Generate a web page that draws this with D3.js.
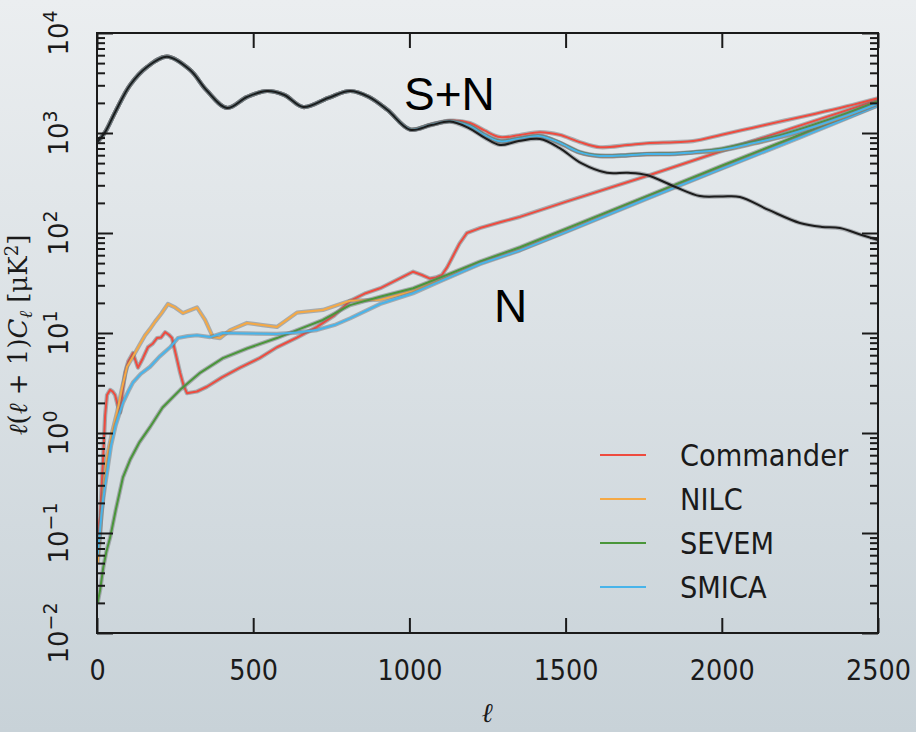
<!DOCTYPE html>
<html><head><meta charset="utf-8">
<script src="https://cdn.jsdelivr.net/npm/d3@7"></script>
<style>html,body{margin:0;padding:0;}body{width:916px;height:732px;overflow:hidden;}</style>
</head><body>
<svg id="chart" width="916" height="732"></svg>
<script>
// ---------- data ----------
const xTickValues = [0, 500, 1000, 1500, 2000, 2500];
const yExponents = [-2, -1, 0, 1, 2, 3, 4];
const seriesNames = ["Commander", "NILC", "SEVEM", "SMICA"];
const seriesColors = ["#ee4b3f", "#f5a945", "#4a963a", "#48b4ea"];

// signal (black)
const signalEll = [2, 26, 60, 106, 160, 224, 298, 350, 416, 480, 544, 600, 660, 740, 810, 870, 930, 1002, 1070, 1130, 1190, 1240, 1290, 1350, 1418, 1480, 1550, 1632, 1700, 1760, 1850, 1930, 2000, 2058, 2150, 2250, 2320, 2378, 2450, 2500];
const signalVals = [820, 1020, 1660, 3020, 4570, 5800, 4270, 2690, 1780, 2290, 2630, 2400, 1820, 2240, 2630, 2300, 1700, 1080, 1200, 1300, 1120, 900, 760, 830, 870, 710, 500, 400, 400, 380, 290, 234, 232, 229, 170, 126, 115, 112, 95, 85];

// S+N per method
const snEll = [2, 26, 60, 106, 160, 224, 298, 350, 416, 480, 544, 600, 660, 740, 810, 870, 930, 1002, 1070, 1130, 1194, 1240, 1290, 1350, 1418, 1480, 1546, 1610, 1700, 1760, 1850, 1908, 2000, 2100, 2200, 2300, 2400, 2500];
const commanderSN = [820, 1020, 1660, 3020, 4570, 5800, 4270, 2690, 1780, 2290, 2630, 2400, 1820, 2240, 2630, 2300, 1700, 1090, 1220, 1330, 1260, 1060, 910, 950, 1020, 960, 810, 720, 760, 790, 810, 830, 960, 1130, 1330, 1560, 1850, 2230];
const nilcSN      = [820, 1020, 1660, 3020, 4570, 5800, 4270, 2690, 1780, 2290, 2630, 2400, 1820, 2240, 2630, 2300, 1700, 1085, 1210, 1310, 1170, 950, 820, 870, 925, 795, 635, 585, 595, 610, 615, 635, 670, 780, 930, 1160, 1480, 1960];
const sevemSN     = [820, 1020, 1660, 3020, 4570, 5800, 4270, 2690, 1780, 2290, 2630, 2400, 1820, 2240, 2630, 2300, 1700, 1085, 1210, 1310, 1175, 960, 830, 880, 935, 805, 645, 595, 605, 620, 625, 645, 700, 820, 980, 1230, 1580, 2080];
const smicaSN     = [820, 1020, 1660, 3020, 4570, 5800, 4270, 2690, 1780, 2290, 2630, 2400, 1820, 2240, 2630, 2300, 1700, 1085, 1210, 1310, 1170, 955, 825, 875, 930, 800, 640, 590, 600, 615, 620, 640, 680, 790, 940, 1170, 1500, 1980];

// Noise per method
const commanderNEll = [2, 10, 20, 26, 32, 42, 50, 58, 66, 74, 82, 90, 100, 115, 131, 147, 163, 178, 192, 205, 218, 230, 240, 253, 266, 277, 288, 320, 352, 400, 458, 520, 576, 640, 704, 760, 810, 860, 906, 960, 1012, 1040, 1066, 1085, 1104, 1120, 1136, 1160, 1184, 1226, 1290, 1354, 1500, 1760, 2000, 2186, 2350, 2500];
const commanderN = [0.1, 0.15, 0.6, 1.5, 2.4, 2.7, 2.6, 2.4, 1.9, 1.6, 2.6, 4.0, 5.2, 6.3, 4.5, 5.6, 7.2, 7.8, 8.9, 9.0, 10.2, 9.6, 8.9, 6.0, 4.0, 3.0, 2.5, 2.6, 2.9, 3.6, 4.5, 5.6, 7.2, 9.0, 11.5, 15, 21, 25, 28, 34, 41, 38, 35, 36, 38, 45, 56, 78, 100, 112, 128, 145, 205, 372, 660, 1020, 1500, 2140];
const nilcNEll = [2, 8, 14, 20, 26, 32, 48, 64, 80, 96, 115, 135, 154, 170, 186, 205, 227, 250, 275, 300, 320, 346, 371, 394, 426, 480, 530, 576, 640, 723, 810, 906, 1012, 1100, 1226, 1354, 1500, 1760, 2000, 2250, 2500];
const nilcN = [0.05, 0.08, 0.15, 0.25, 0.4, 0.58, 1.0, 1.6, 2.8, 4.6, 5.8, 7.5, 9.5, 11, 13, 15.5, 19.5, 18, 15.8, 17, 18, 13.5, 9.1, 8.9, 10.7, 12.6, 12, 11.5, 16, 17, 21, 21.5, 26.5, 34, 50, 68, 104, 225, 450, 930, 1900];
const sevemNEll = [2, 10, 20, 30, 42, 60, 83, 106, 135, 170, 210, 266, 330, 403, 480, 576, 650, 723, 810, 906, 1012, 1100, 1226, 1354, 1500, 1760, 2000, 2250, 2500];
const sevemN = [0.02, 0.027, 0.045, 0.065, 0.09, 0.17, 0.36, 0.54, 0.8, 1.15, 1.8, 2.7, 4.0, 5.6, 7.0, 8.9, 11.0, 13.5, 19, 23, 28, 36, 52, 72, 110, 234, 470, 960, 2000];
const smicaNEll = [2, 8, 14, 20, 26, 32, 45, 60, 83, 100, 115, 140, 170, 200, 234, 259, 290, 320, 362, 403, 480, 576, 640, 704, 760, 810, 906, 1012, 1100, 1226, 1354, 1500, 1760, 2000, 2250, 2500];
const smicaN = [0.06, 0.09, 0.15, 0.22, 0.3, 0.4, 0.75, 1.2, 2.0, 2.6, 3.2, 3.9, 4.6, 5.8, 7.2, 8.9, 9.3, 9.5, 9.1, 10, 9.9, 9.8, 10.1, 10.7, 12, 14, 19.5, 25, 33, 49, 67, 102, 220, 440, 900, 1880];

// ---------- drawing ----------
const W = 916, H = 732;
const svg = d3.select("#chart");
const defs = svg.append("defs");
const grad = defs.append("linearGradient").attr("id", "bg").attr("x1", 0).attr("y1", 0).attr("x2", 0).attr("y2", 1);
grad.append("stop").attr("offset", "0%").attr("stop-color", "#ebeef0");
grad.append("stop").attr("offset", "100%").attr("stop-color", "#c8d2d8");
svg.append("rect").attr("width", W).attr("height", H).attr("fill", "url(#bg)");

const x = d3.scaleLinear().domain([0, 2500]).range([97, 878]);
const y = d3.scaleLog().domain([1e-2, 1e4]).range([633, 33]);

const plot = svg.append("g");
plot.append("clipPath").attr("id", "clip").append("rect")
  .attr("x", 97).attr("y", 33).attr("width", 781).attr("height", 600);
const lines = plot.append("g").attr("clip-path", "url(#clip)");

const lineStraight = d3.line().x(d => x(d[0])).y(d => y(d[1]));
const lineSmooth = d3.line().x(d => x(d[0])).y(d => y(d[1])).curve(d3.curveCatmullRom.alpha(0.5));
function zipData(ell, vals) { return ell.map((l, i) => [l, vals[i]]); }
function drawSeries(ell, vals, color, w, gen) {
  const data = zipData(ell, vals);
  lines.append("path").datum(data).attr("d", gen)
    .attr("fill", "none").attr("stroke", "#6f7478").attr("stroke-opacity", 0.5)
    .attr("stroke-width", w + 2.2).attr("stroke-linejoin", "round");
  lines.append("path").datum(data).attr("d", gen)
    .attr("fill", "none").attr("stroke", color)
    .attr("stroke-width", w).attr("stroke-linejoin", "round");
}

const snSets = [commanderSN, nilcSN, sevemSN, smicaSN];
const nSets = [[commanderNEll, commanderN], [nilcNEll, nilcN], [sevemNEll, sevemN], [smicaNEll, smicaN]];
nSets.forEach((s, i) => drawSeries(s[0], s[1], seriesColors[i], 2, lineStraight));
snSets.forEach((s, i) => drawSeries(snEll, s, seriesColors[i], 2, lineSmooth));
drawSeries(signalEll, signalVals, "#1c1c1c", 2, lineSmooth);

// axes
const axisCol = "#1a1a1a";
function styleAxis(g) {
  g.select(".domain").remove();
  g.selectAll(".tick line").attr("stroke", axisCol).attr("stroke-width", 2);
}
const bottom = svg.append("g").attr("transform", "translate(0,633)")
  .call(d3.axisBottom(x).tickValues(xTickValues).tickSizeInner(-15).tickSizeOuter(0).tickPadding(26).tickFormat(d3.format("d")))
  .call(styleAxis);
bottom.selectAll(".tick text").attr("font-family", "DejaVu Sans").attr("font-size", 29)
  .attr("fill", "#1a1a1a").attr("transform", "scale(0.88,1)");
svg.append("g").attr("transform", "translate(0,33)")
  .call(d3.axisTop(x).tickValues(xTickValues).tickSizeInner(-15).tickSizeOuter(0).tickFormat(""))
  .call(styleAxis);

const majors = yExponents.map(e => Math.pow(10, e));
const minors = y.ticks().filter(v => !majors.some(m => Math.abs(m - v) / m < 1e-6));
[[d3.axisLeft, 97], [d3.axisRight, 878]].forEach(([ax, px]) => {
  svg.append("g").attr("transform", `translate(${px},0)`)
    .call(ax(y).tickValues(majors).tickSizeInner(-16).tickSizeOuter(0).tickFormat(""))
    .call(styleAxis);
  svg.append("g").attr("transform", `translate(${px},0)`)
    .call(ax(y).tickValues(minors).tickSizeInner(-8).tickSizeOuter(0).tickFormat(""))
    .call(styleAxis);
});

// y tick labels (rotated)
yExponents.forEach(e => {
  const t = svg.append("text")
    .attr("transform", `translate(68,${y(Math.pow(10, e))}) rotate(-90)`)
    .attr("text-anchor", "middle").attr("font-family", "DejaVu Sans")
    .attr("font-size", 26).attr("fill", "#1a1a1a");
  t.append("tspan").text("10");
  t.append("tspan").attr("dy", -11).attr("font-size", 19).text(e < 0 ? "\u2212" + (-e) : String(e));
});

// frame
svg.append("rect").attr("x", 97).attr("y", 33).attr("width", 781).attr("height", 600)
  .attr("fill", "none").attr("stroke", axisCol).attr("stroke-width", 2);

// axis labels
svg.append("text").attr("x", 487).attr("y", 722).attr("text-anchor", "middle")
  .attr("font-family", "DejaVu Serif").attr("font-style", "italic").attr("font-size", 27)
  .attr("fill", "#1a1a1a").text("ℓ");
const yl = svg.append("text").attr("transform", "translate(27,335) rotate(-90)")
  .attr("text-anchor", "middle").attr("font-family", "DejaVu Serif").attr("font-size", 26).attr("fill", "#1a1a1a");
yl.append("tspan").attr("font-style", "italic").text("ℓ");
yl.append("tspan").text("(");
yl.append("tspan").attr("font-style", "italic").text("ℓ");
yl.append("tspan").text(" + 1)");
yl.append("tspan").attr("font-style", "italic").text("C");
yl.append("tspan").attr("font-style", "italic").attr("font-size", 18).attr("dy", 5).text("ℓ");
yl.append("tspan").attr("dy", -5).text("  [μK");
yl.append("tspan").attr("font-size", 18).attr("dy", -9).text("2");
yl.append("tspan").attr("dy", 9).text("]");

// annotations
svg.append("text").attr("x", 404).attr("y", 110).attr("font-family", "Liberation Sans")
  .attr("font-size", 46).attr("fill", "#000").text("S+N");
svg.append("text").attr("x", 494).attr("y", 322).attr("font-family", "Liberation Sans")
  .attr("font-size", 46).attr("fill", "#000").text("N");

// legend
const legendY = [455, 499, 543, 587];
seriesNames.forEach((name, i) => {
  svg.append("line").attr("x1", 600).attr("x2", 646).attr("y1", legendY[i]).attr("y2", legendY[i])
    .attr("stroke", seriesColors[i]).attr("stroke-width", 2);
  svg.append("text").attr("transform", `translate(680,${legendY[i] + 11}) scale(0.88,1)`)
    .attr("font-family", "DejaVu Sans").attr("font-size", 31).attr("fill", "#1a1a1a").text(name);
});
</script>
</body></html>
